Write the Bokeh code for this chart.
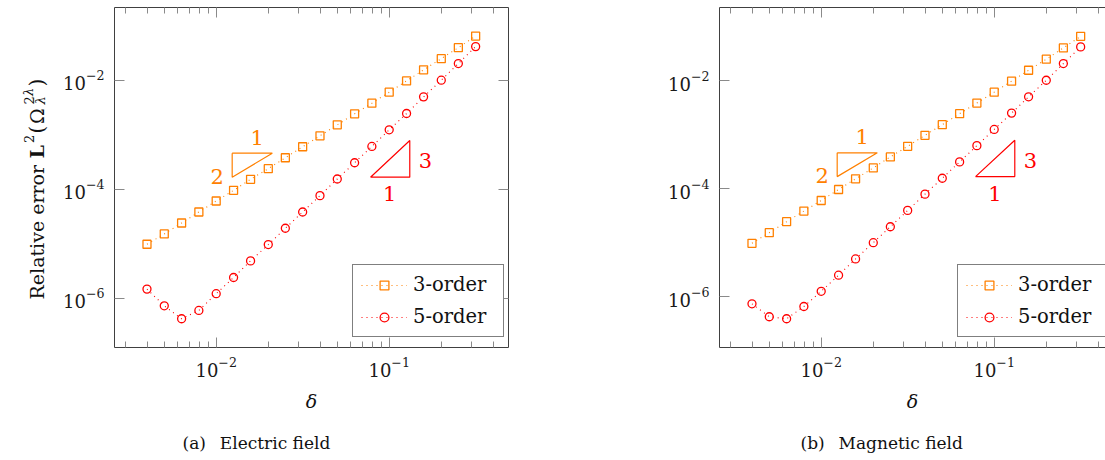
import math
from bokeh.plotting import figure
from bokeh.models import (LogAxis, FixedTicker, Legend, LegendItem, Range1d,
                          CustomJSTickFormatter)
from bokeh.layouts import row, column
from bokeh.embed import file_html
from bokeh.resources import INLINE
from bokeh.core.properties import value

# ---------------- data ----------------
delta = [0.00398, 0.00501, 0.00631, 0.00794, 0.0100, 0.0126, 0.0158, 0.0200,
         0.0251, 0.0316, 0.0398, 0.0501, 0.0631, 0.0794, 0.100, 0.126, 0.158,
         0.200, 0.251, 0.316]

electric_3 = [9.78e-6, 1.51e-5, 2.40e-5, 3.82e-5, 6.08e-5, 9.53e-5, 1.52e-4,
              2.38e-4, 3.78e-4, 6.01e-4, 9.55e-4, 1.52e-3, 2.42e-3, 3.79e-3,
              6.03e-3, 9.72e-3, 1.55e-2, 2.49e-2, 3.96e-2, 6.45e-2]
electric_5 = [1.47e-6, 7.26e-7, 4.20e-7, 5.96e-7, 1.21e-6, 2.40e-6, 4.84e-6,
              9.64e-6, 1.92e-5, 3.82e-5, 7.62e-5, 1.54e-4, 3.06e-4, 6.10e-4,
              1.23e-3, 2.45e-3, 4.95e-3, 1.00e-2, 2.02e-2, 4.14e-2]

magnetic_3 = [9.66e-6, 1.52e-5, 2.43e-5, 3.82e-5, 6.00e-5, 9.59e-5, 1.51e-4,
              2.41e-4, 3.85e-4, 6.05e-4, 9.66e-4, 1.52e-3, 2.43e-3, 3.82e-3,
              6.09e-3, 9.72e-3, 1.55e-2, 2.48e-2, 4.01e-2, 6.58e-2]
magnetic_5 = [7.32e-7, 4.22e-7, 3.87e-7, 6.53e-7, 1.25e-6, 2.48e-6, 4.96e-6,
              9.93e-6, 1.96e-5, 3.93e-5, 7.86e-5, 1.55e-4, 3.11e-4, 6.22e-4,
              1.24e-3, 2.49e-3, 4.99e-3, 1.01e-2, 2.06e-2, 4.19e-2]

series_labels = ["3-order", "5-order"]
captions = ["(a)\u2002 Electric field", "(b)\u2002 Magnetic field"]
caption_x = [182, 800]       # page x where each caption starts
caption_y = [442, 442]       # page y of caption centre
x_label = "\u03b4"

x_major = [0.01, 0.1]
x_minor = [0.003, 0.004, 0.005, 0.006, 0.007, 0.008, 0.009,
           0.02, 0.03, 0.04, 0.05, 0.06, 0.07, 0.08, 0.09, 0.2, 0.3, 0.4]
y_major = [1e-6, 1e-4, 1e-2]

# slope triangles (annotation, data coordinates)
tri2_x = [0.01237, 0.0211, 0.01237, 0.01237]
tri2_y = [4.58e-4, 4.58e-4, 1.66e-4, 4.58e-4]
tri2_lab_x = [0.01726, 0.01013]
tri2_lab_y = [9.0e-4, 1.71e-4]
tri2_lab = ["1", "2"]
tri3_x = [0.07798, 0.1315, 0.1315, 0.07798]
tri3_y = [1.66e-4, 1.66e-4, 7.83e-4, 1.66e-4]
tri3_lab_x = [0.162, 0.1008]
tri3_lab_y = [3.37e-4, 8.24e-5]
tri3_lab = ["3", "1"]

# y-axis title pieces: text, start (page y, text runs upward), baseline (page x), size, style
ylab_text = ["Relative error", "L", "2", "(", "\u03a9", "2", "\u03bb", "\u03bb", ")"]
ylab_start = [299, 158, 142.5, 133, 123.5, 104, 95.5, 104, 86]
ylab_base = [36, 36, 28, 36, 36, 28, 28, 40, 36]
ylab_size = ["19px", "19px", "13px", "20px", "19px", "13px", "13px", "13px", "20px"]
ylab_style = ["normal", "bold", "normal", "normal", "normal", "normal", "italic", "italic", "normal"]

ORANGE = "#ff8000"
RED = "#ff0000"
FRAME = "#404040"
TICK = "#8a8a8a"
TXT = "#111111"
FONT = "DejaVu Serif"
X_START = 0.002583
W = 1105
H = 460          # whole page
H_TOP = 430      # height of the row holding the two panels
TOP = 7
BOTTOM = 347


def style_axis(ax, major, minor, labels, standoff=10, line=False):
    ax.ticker = FixedTicker(ticks=major, minor_ticks=minor)
    ax.major_tick_in = 10
    ax.major_tick_out = 0
    ax.minor_tick_in = 6
    ax.minor_tick_out = 0
    ax.major_tick_line_color = TICK
    ax.minor_tick_line_color = TICK
    ax.axis_line_color = FRAME if line else None
    if labels:
        ax.major_label_text_font = FONT
        ax.major_label_text_font_size = "18px"
        ax.major_label_text_color = "#1a1a1a"
        ax.major_label_standoff = standoff
    else:
        ax.formatter = CustomJSTickFormatter(code="return ''")
        ax.major_label_standoff = 0
        ax.major_label_text_font_size = "0px"


def panel(width, bl, br, x_end, y_lo, y_hi, s3, s5, with_right):
    p = figure(width=width, height=H_TOP, x_axis_type="log", y_axis_type="log",
               x_range=Range1d(X_START, x_end), y_range=Range1d(y_lo, y_hi),
               output_backend="svg", toolbar_location=None,
               min_border_left=bl, min_border_right=br, min_border_top=TOP,
               min_border_bottom=H_TOP - BOTTOM)
    p.grid.visible = False
    use_lines = not with_right
    if with_right:
        p.outline_line_color = FRAME
        p.outline_line_width = 1
    else:
        p.outline_line_color = None
    style_axis(p.xaxis[0], x_major, x_minor, True, standoff=9, line=use_lines)
    style_axis(p.yaxis[0], y_major, [], True, standoff=10, line=use_lines)
    p.xaxis[0].axis_label = x_label
    p.xaxis[0].axis_label_text_font = FONT
    p.xaxis[0].axis_label_text_font_style = "italic"
    p.xaxis[0].axis_label_text_font_size = "19px"
    p.xaxis[0].axis_label_text_color = TXT
    p.xaxis[0].axis_label_standoff = 10
    top = LogAxis()
    style_axis(top, x_major, x_minor, False, line=use_lines)
    p.add_layout(top, "above")
    if with_right:
        right = LogAxis()
        style_axis(right, y_major, [], False)
        p.add_layout(right, "right")

    r3l = p.line(delta, s3, line_color=ORANGE, line_dash="1 4", line_width=1.1)
    r3m = p.scatter(delta, s3, marker="square", size=8, line_color=ORANGE,
                    fill_color=None, line_width=1.3)
    r5l = p.line(delta, s5, line_color=RED, line_dash="1 4", line_width=1.1)
    r5m = p.scatter(delta, s5, marker="circle", size=8, line_color=RED,
                    fill_color=None, line_width=1.3)

    p.line(tri2_x, tri2_y, line_color=ORANGE, line_width=1.2)
    p.text(tri2_lab_x, tri2_lab_y, text=tri2_lab, text_color=ORANGE,
           text_font=value(FONT), text_font_size="21px",
           text_align="center", text_baseline="middle")
    p.line(tri3_x, tri3_y, line_color=RED, line_width=1.2)
    p.text(tri3_lab_x, tri3_lab_y, text=tri3_lab, text_color=RED,
           text_font=value(FONT), text_font_size="21px",
           text_align="center", text_baseline="middle")

    legend = Legend(items=[LegendItem(label=series_labels[0], renderers=[r3l, r3m]),
                           LegendItem(label=series_labels[1], renderers=[r5l, r5m])],
                    location=(238, 10), orientation="vertical",
                    glyph_width=46, glyph_height=22, label_height=22,
                    label_width=82, label_standoff=6, padding=8, spacing=9,
                    margin=0, border_line_color="black", border_line_width=1,
                    background_fill_color="white", background_fill_alpha=1,
                    label_text_font=FONT, label_text_font_size="19.5px",
                    label_text_color=TXT)
    p.add_layout(legend)
    return p


def blank(width, height, x_range, y_range, top=0, bottom=0):
    f = figure(width=width, height=height, x_range=x_range, y_range=y_range,
               output_backend="svg", toolbar_location=None,
               x_axis_location=None, y_axis_location=None,
               min_border=0, min_border_left=0, min_border_right=0,
               min_border_top=top, min_border_bottom=bottom)
    f.grid.visible = False
    f.outline_line_color = None
    return f


# figure that only holds the rotated y-axis title; its frame spans the same
# rows as the panels' frames, and its y data units are page pixels (top-down)
ylab_fig = blank(50, H_TOP, Range1d(0, 50), Range1d(BOTTOM, TOP),
                 top=TOP, bottom=H_TOP - BOTTOM)
for t, s0, b, sz, st in zip(ylab_text, ylab_start, ylab_base, ylab_size, ylab_style):
    ylab_fig.text([b], [s0], text=[t], angle=math.pi / 2, text_font=value(FONT),
                  text_font_size=sz, text_font_style=st, text_color=TXT,
                  text_align="left", text_baseline="alphabetic")

left = panel(558, 64, 100, 0.4893, 1.246e-7, 0.2160, electric_3, electric_5, True)
right = panel(497, 111, 0, 0.4398, 1.137e-7, 0.2249, magnetic_3, magnetic_5, False)

# strip holding the sub-figure captions (data units = page pixels)
cap_fig = blank(W, H - H_TOP, Range1d(0, W), Range1d(H, H_TOP))
cap_fig.text(caption_x, caption_y, text=captions, text_font=value(FONT),
             text_font_size="17px", text_color=TXT,
             text_align="left", text_baseline="middle")

layout = column(row(ylab_fig, left, right), cap_fig)
open("out.html", "w").write(file_html(layout, INLINE))
